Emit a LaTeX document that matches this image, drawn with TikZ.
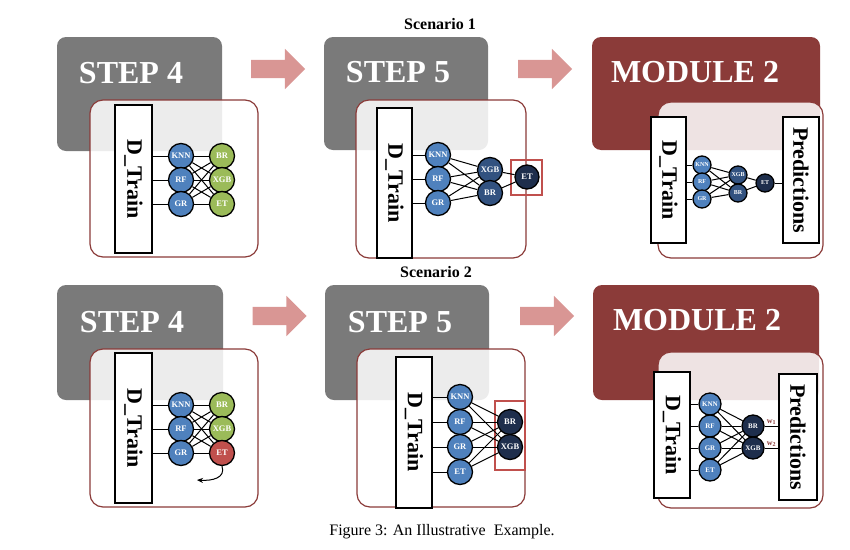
\documentclass[tikz,border=0pt]{standalone}
\usepackage{fontspec}
\setmainfont{Liberation Serif}
\usetikzlibrary{positioning,shapes.arrows,arrows.meta}

\definecolor{stepgray}{RGB}{122,122,122}
\definecolor{modred}{RGB}{139,59,57}
\definecolor{flowpink}{RGB}{217,150,148}
\definecolor{lblue}{RGB}{79,129,189}
\definecolor{lgreen}{RGB}{155,187,89}
\definecolor{mblue}{RGB}{50,82,128}
\definecolor{navy}{RGB}{30,46,76}
\definecolor{etred}{RGB}{192,80,77}

\tikzset{
  stepbox/.style={fill=stepgray, rounded corners=9pt},
  modbox/.style={fill=modred, rounded corners=9pt},
  panel/.style={draw=modred, line width=1.2pt, fill=white, fill opacity=0.86, rounded corners=13pt},
  title/.style={text=white, anchor=base, font=\bfseries\fontsize{32}{32}\selectfont},
  databox/.style={draw, line width=1.2pt, fill=white, rotate=-90, inner sep=0pt, font=\bfseries\fontsize{22}{22}\selectfont},
  learner/.style={circle, draw, line width=1.3pt, inner sep=0pt, minimum size=25pt, text=white, font=\bfseries\fontsize{8.5}{8.5}\selectfont},
  small/.style={minimum size=18pt, font=\bfseries\fontsize{6}{6}\selectfont},
  mid/.style={minimum size=22pt, font=\bfseries\fontsize{7}{7}\selectfont},
  flow/.style={single arrow, fill=flowpink, inner xsep=0pt, inner ysep=9pt, minimum height=54pt, single arrow head extend=11pt},
  wire/.style={line width=1pt},
  pick/.style={draw=etred, line width=1.2pt, inner sep=0pt},
  wlabel/.style={text=modred, inner sep=1pt, font=\bfseries\fontsize{8}{8}\selectfont},
  scen/.style={anchor=base, font=\bfseries\fontsize{16}{16}\selectfont}
}

\begin{document}
\begin{tikzpicture}[x=1pt,y=-1pt]
\useasboundingbox (0,0) rectangle (850,549);

% Scenario 1
\node[scen] (sc1) at (440,29) {Scenario 1};

\fill[stepbox] (57,37) rectangle (222,151);
\node[title] (A-t) at (131,83) {STEP 4};
\node[flow] (A-go) at (273.5,69) {};
\path[panel] (90,100) rectangle (258,257);
\node[databox, minimum width=148, minimum height=37] (A-d) at (133.5,179) {D\_Train};
\foreach \n/\t/\y in {knn/KNN/156, rf/RF/180, gr/GR/204}
  \node[learner, fill=lblue] (A-\n) at (181,\y) {\t};
\foreach \n/\t/\y in {br/BR/156, xgb/XGB/180, et/ET/204}
  \node[learner, fill=lgreen] (A-\n) at (222,\y) {\t};
\foreach \i in {knn,rf,gr} {
  \draw[wire] (A-d.north |- A-\i) -- (A-\i);
  \foreach \j in {br,xgb,et} \draw[wire] (A-\i) -- (A-\j);
}

\fill[stepbox] (324,37) rectangle (488,150);
\node[title] (B-t) at (398,82) {STEP 5};
\node[flow] (B-go) at (540.5,69) {};
\path[panel] (356,100) rectangle (526,258);
\node[databox, minimum width=150, minimum height=35] (B-d) at (394.5,183) {D\_Train};
\foreach \n/\t/\y in {knn/KNN/155, rf/RF/179, gr/GR/203}
  \node[learner, fill=lblue] (B-\n) at (438,\y) {\t};
\node[learner, fill=mblue] (B-xgb) at (490,170) {XGB};
\node[learner, fill=mblue] (B-br) at (490,193) {BR};
\node[learner, fill=navy, minimum size=24pt] (B-et) at (527,177) {ET};
\node[pick, minimum width=31, minimum height=35] (B-pick) at (526.5,177.5) {};
\foreach \i in {knn,rf,gr} {
  \draw[wire] (B-d.north |- B-\i) -- (B-\i);
  \foreach \j in {xgb,br} \draw[wire] (B-\i) -- (B-\j);
}
\draw[wire] (B-xgb) -- (B-et);
\draw[wire] (B-br) -- (B-et);

\fill[modbox] (592,37) rectangle (820,150);
\node[title] (C-t) at (695,82) {MODULE 2};
\path[panel] (658,102) rectangle (823,258);
\node[databox, minimum width=126, minimum height=35] (C-d) at (668.5,180) {D\_Train};
\node[databox, minimum width=126, minimum height=36] (C-p) at (801,180) {Predictions};
\foreach \n/\t/\y in {knn/KNN/165, rf/RF/182, gr/GR/199}
  \node[learner, small, fill=lblue] (C-\n) at (702,\y) {\t};
\node[learner, small, fill=mblue] (C-xgb) at (738,175) {XGB};
\node[learner, small, fill=mblue] (C-br) at (738,193) {BR};
\node[learner, small, fill=navy] (C-et) at (765,183) {ET};
\foreach \i in {knn,rf,gr} {
  \draw[wire] (C-d.north |- C-\i) -- (C-\i);
  \foreach \j in {xgb,br} \draw[wire] (C-\i) -- (C-\j);
}
\draw[wire] (C-xgb) -- (C-et);
\draw[wire] (C-br) -- (C-et);
\draw[wire] (C-et) -- (C-p.south |- C-et);

% Scenario 2
\node[scen] (sc2) at (436,277) {Scenario 2};

\fill[stepbox] (57,285) rectangle (223,400);
\node[title] (D-t) at (132,332) {STEP 4};
\node[flow] (D-go) at (275,316) {};
\path[panel] (90,349) rectangle (258,507);
\node[databox, minimum width=150, minimum height=37] (D-d) at (133.5,428) {D\_Train};
\foreach \n/\t/\y in {knn/KNN/405, rf/RF/429, gr/GR/453}
  \node[learner, fill=lblue] (D-\n) at (181,\y) {\t};
\node[learner, fill=lgreen] (D-br) at (222,405) {BR};
\node[learner, fill=lgreen] (D-xgb) at (222,429) {XGB};
\node[learner, fill=etred] (D-et) at (222,453) {ET};
\foreach \i in {knn,rf,gr} {
  \draw[wire] (D-d.north |- D-\i) -- (D-\i);
  \foreach \j in {br,xgb,et} \draw[wire] (D-\i) -- (D-\j);
}
\coordinate (D-drop) at (197,480);
\draw[wire, -{Stealth[length=6pt,width=5pt]}] (D-et.south) .. controls (226,478) and (212,481) .. (D-drop);

\fill[stepbox] (325,285) rectangle (489,400);
\node[title] (E-t) at (400,332) {STEP 5};
\node[flow] (E-go) at (542.5,316) {};
\path[panel] (357,349) rectangle (525,507);
\node[databox, minimum width=151, minimum height=36] (E-d) at (414,432.5) {D\_Train};
\foreach \n/\t/\y in {knn/KNN/397, rf/RF/422, gr/GR/447, et/ET/472}
  \node[learner, fill=lblue] (E-\n) at (460,\y) {\t};
\node[learner, fill=navy] (E-br) at (510,422) {BR};
\node[learner, fill=navy] (E-xgb) at (510,447) {XGB};
\node[pick, minimum width=30, minimum height=69] (E-pick) at (510,435.5) {};
\foreach \i in {knn,rf,gr,et} {
  \draw[wire] (E-d.north |- E-\i) -- (E-\i);
  \foreach \j in {br,xgb} \draw[wire] (E-\i) -- (E-\j);
}

\fill[modbox] (593,285) rectangle (819,400);
\node[title] (F-t) at (697,330) {MODULE 2};
\path[panel] (658,352) rectangle (823,508);
\node[databox, minimum width=126, minimum height=36] (F-d) at (672,435) {D\_Train};
\node[databox, minimum width=126, minimum height=38] (F-p) at (798,437) {Predictions};
\foreach \n/\t/\y in {knn/KNN/404, rf/RF/426, gr/GR/448, et/ET/470}
  \node[learner, mid, fill=lblue] (F-\n) at (710,\y) {\t};
\node[learner, mid, fill=navy] (F-br) at (753,426) {BR};
\node[learner, mid, fill=navy] (F-xgb) at (753,448) {XGB};
\foreach \i in {knn,rf,gr,et} {
  \draw[wire] (F-d.north |- F-\i) -- (F-\i);
  \foreach \j in {br,xgb} \draw[wire] (F-\i) -- (F-\j);
}
\draw[wire] (F-br) -- node[wlabel, above] {w\textsubscript{1}} (F-p.south |- F-br);
\draw[wire] (F-xgb) -- node[wlabel, above] {w\textsubscript{2}} (F-p.south |- F-xgb);

\node[anchor=base, font=\fontsize{16}{16}\selectfont] (cap) at (442,535) {Figure 3: An Illustrative\ \ Example.};
\end{tikzpicture}
\end{document}
